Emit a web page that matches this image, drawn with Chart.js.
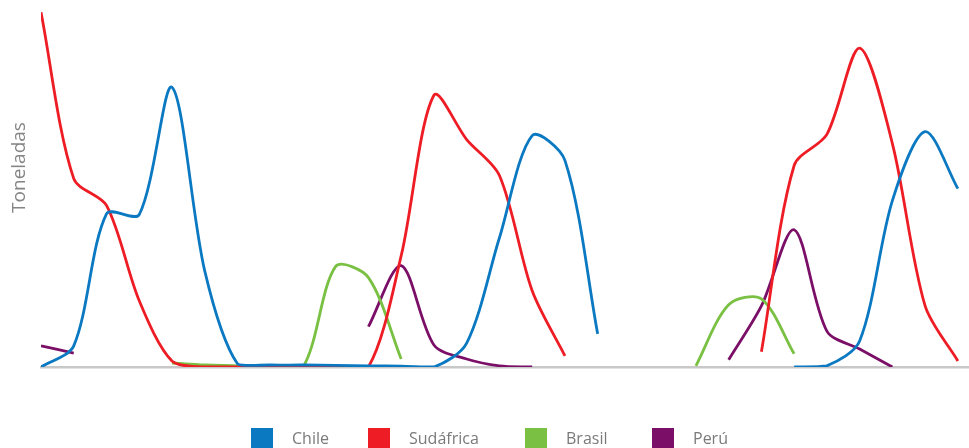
<!DOCTYPE html>
<html lang="es">
<head>
<meta charset="utf-8">
<script src="https://cdn.jsdelivr.net/npm/chart.js@4.4.1/dist/chart.umd.min.js"></script>
<style>
  html, body { margin: 0; padding: 0; background: #fff; overflow: hidden; }
  #wrap { position: relative; width: 969px; height: 448px; overflow: hidden; }
  #box { position: absolute; left: 0; top: -32px; width: 969px; height: 480px; }
  #legend {
    position: absolute; left: 0; top: 428px; width: 969px; height: 20px;
    font-family: "Open Sans", sans-serif; font-size: 16px; color: #7a7a7a;
  }
  .item { position: absolute; top: 0; display: flex; align-items: center; line-height: 20px; white-space: nowrap; }
  .item:nth-child(1) { left: 251px; }
  .item:nth-child(2) { left: 368px; }
  .item:nth-child(3) { left: 525px; }
  .item:nth-child(4) { left: 652px; }
  .sw { width: 22px; height: 20px; margin-right: 19px; }
</style>
</head>
<body>
<div id="wrap">
  <div id="box"><canvas id="chart"></canvas></div>
  <div id="legend"></div>
</div>
<script>
// semanas de la temporada (no se rotulan en el eje)
const semanas = ['S1', 'S2', 'S3', 'S4', 'S5', 'S6', 'S7', 'S8', 'S9', 'S10',
  'S11', 'S12', 'S13', 'S14', 'S15', 'S16', 'S17', 'S18', 'S19', 'S20',
  'S21', 'S22', 'S23', 'S24', 'S25', 'S26', 'S27', 'S28', 'S29'];

const paises = ['Chile', 'Sudáfrica', 'Brasil', 'Perú'];
const colores = ['#0a79c2', '#ee1c24', '#79c043', '#7b0f68'];

// toneladas por semana; null = sin envíos
const chile = [0, 53, 384, 382, 701, 241, 8, 5, 5, 4, 3, 2, 0, 60, 324, 580, 518, 83,
  null, null, null, null, null, 0, 3, 65, 417, 590, 447];
const sudafrica = [889, 472, 405, 166, 15, 0, 0, 0, 0, 0, 0, 279, 681, 570, 480, 191, 28,
  null, null, null, null, null, 38, 505, 583, 799, 560, 153, 15];
const brasil = [null, null, null, null, 10, 5, 3, 0, 0, 252, 224, 20,
  null, null, null, null, null, null, null, null, 3, 156, 171, 33,
  null, null, null, null, null];
const peru = [53, 35, null, null, null, null, null, null, null, null, 101, 254, 55, 20, 3, 0,
  null, null, null, null, null, 18, 153, 344, 90, 45, 0, null, null];

const series = [chile, sudafrica, brasil, peru];

const datasets = series.map((vals, k) => ({
  label: paises[k],
  data: vals.map((v, i) => ({ x: i, y: v })),
  borderColor: colores[k],
  backgroundColor: colores[k],
  borderWidth: 2.8,
  pointRadius: 0,
  tension: 0.3,
  fill: false,
  spanGaps: false
}));

new Chart(document.getElementById('chart'), {
  type: 'line',
  data: { labels: semanas, datasets: datasets },
  options: {
    responsive: true,
    maintainAspectRatio: false,
    animation: false,
    layout: { padding: { top: 0, right: 0, bottom: 73, left: 0 } },
    plugins: {
      legend: { display: false },
      tooltip: { enabled: false }
    },
    scales: {
      x: {
        type: 'linear',
        min: 0,
        max: 28.34,
        ticks: { display: false },
        grid: { display: false },
        border: { display: true, color: '#c8c8c8', width: 2.5 }
      },
      y: {
        min: 0,
        max: 1000,
        ticks: { display: false },
        grid: { display: false },
        border: { display: false },
        title: {
          display: true,
          text: 'Toneladas',
          color: '#858585',
          padding: { top: 8, bottom: 0 },
          font: { family: '"Open Sans", sans-serif', size: 19, weight: 'normal' }
        },
        afterFit: (axis) => { axis.width = 41; }
      }
    }
  }
});

// leyenda
const legend = document.getElementById('legend');
paises.forEach((p, k) => {
  const item = document.createElement('div');
  item.className = 'item';
  const sw = document.createElement('span');
  sw.className = 'sw';
  sw.style.background = colores[k];
  const txt = document.createElement('span');
  txt.textContent = p;
  item.appendChild(sw);
  item.appendChild(txt);
  legend.appendChild(item);
});
</script>
</body>
</html>
